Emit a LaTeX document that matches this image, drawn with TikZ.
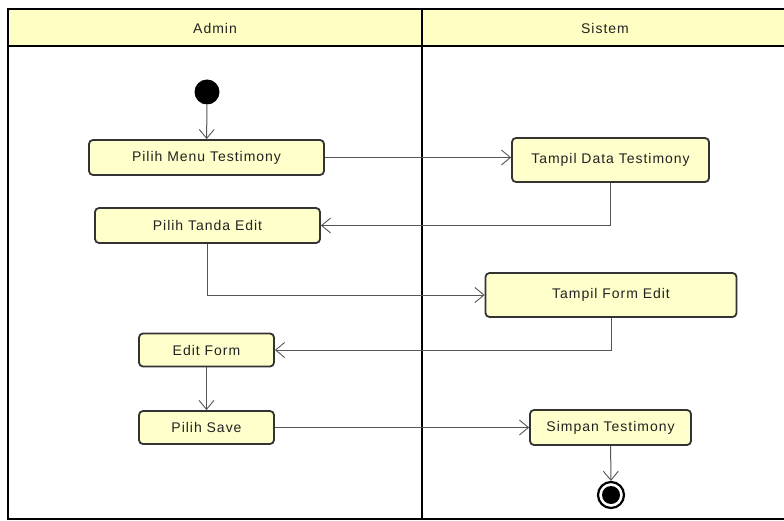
\documentclass[tikz,border=0pt]{standalone}
\usepackage{fontspec}
\setmainfont{Liberation Sans}[LetterSpace=7]
\usetikzlibrary{arrows.meta}
\definecolor{actfill}{HTML}{FFFFCC}
\definecolor{headfill}{HTML}{FFFFC4}
\definecolor{actdraw}{HTML}{333333}
\definecolor{flow}{HTML}{555555}
\definecolor{txt}{HTML}{222222}
\begin{document}
\begin{tikzpicture}[x=1pt,y=-1pt,
  act/.style={draw=actdraw,line width=1.8pt,fill=actfill,rounded corners=4pt,
    inner sep=0pt,text=txt,font=\fontsize{14}{16}\selectfont},
  flowline/.style={draw=flow,line width=1pt,-{Straight Barb[length=9pt,width=15pt,line width=0.9pt]}},
  lane/.style={draw=black,line width=2.2pt},
  headtext/.style={text=txt,font=\fontsize{14}{16}\selectfont}]
\useasboundingbox (0,0) rectangle (784,521);
% swimlanes
\fill[white] (0,0) rectangle (784,521);
\fill[headfill] (8,9) rectangle (790,46);
\draw[lane] (8,9) rectangle (790,519);
\draw[lane] (8,46) -- (790,46);
\draw[lane] (422,9) -- (422,519);
\node[headtext] (hadmin) at (215,28) {Admin};
\node[headtext] (hsistem) at (605,28) {Sistem};
% nodes
\node[circle,fill=black,minimum size=25pt,inner sep=0pt] (init) at (207,92) {};
\node[act,minimum width=235pt,minimum height=35pt] (pmt) at (206.5,157.5) {Pilih Menu Testimony};
\node[act,minimum width=197pt,minimum height=44pt] (tdt) at (610.5,160) {Tampil Data Testimony};
\node[act,minimum width=225pt,minimum height=35pt] (pte) at (207.5,225.5) {Pilih Tanda Edit};
\node[act,minimum width=251pt,minimum height=44pt] (tfe) at (611,295) {Tampil Form Edit};
\node[act,minimum width=135pt,minimum height=33pt] (ef) at (206.5,350) {Edit Form};
\node[act,minimum width=135pt,minimum height=33pt] (ps) at (206.5,427.5) {Pilih Save};
\node[act,minimum width=161pt,minimum height=35pt] (st) at (610.5,427.5) {Simpan Testimony};
\node[circle,draw=black,line width=2.2pt,fill=white,minimum size=26pt,inner sep=0pt] (fin) at (611,495) {};
\node[circle,fill=black,minimum size=18pt,inner sep=0pt] (finin) at (611,495) {};
% flows
\draw[flowline] (init) -- (pmt);
\draw[flowline] (pmt.east) -- (pmt.east -| tdt.west);
\draw[flowline] (tdt.south) |- (pte.east);
\draw[flowline] (pte.south) |- (tfe.west);
\draw[flowline] (tfe.south) |- (ef.east);
\draw[flowline] (ef) -- (ps);
\draw[flowline] (ps) -- (st);
\draw[flowline] (st) -- (fin);
\end{tikzpicture}
\end{document}
